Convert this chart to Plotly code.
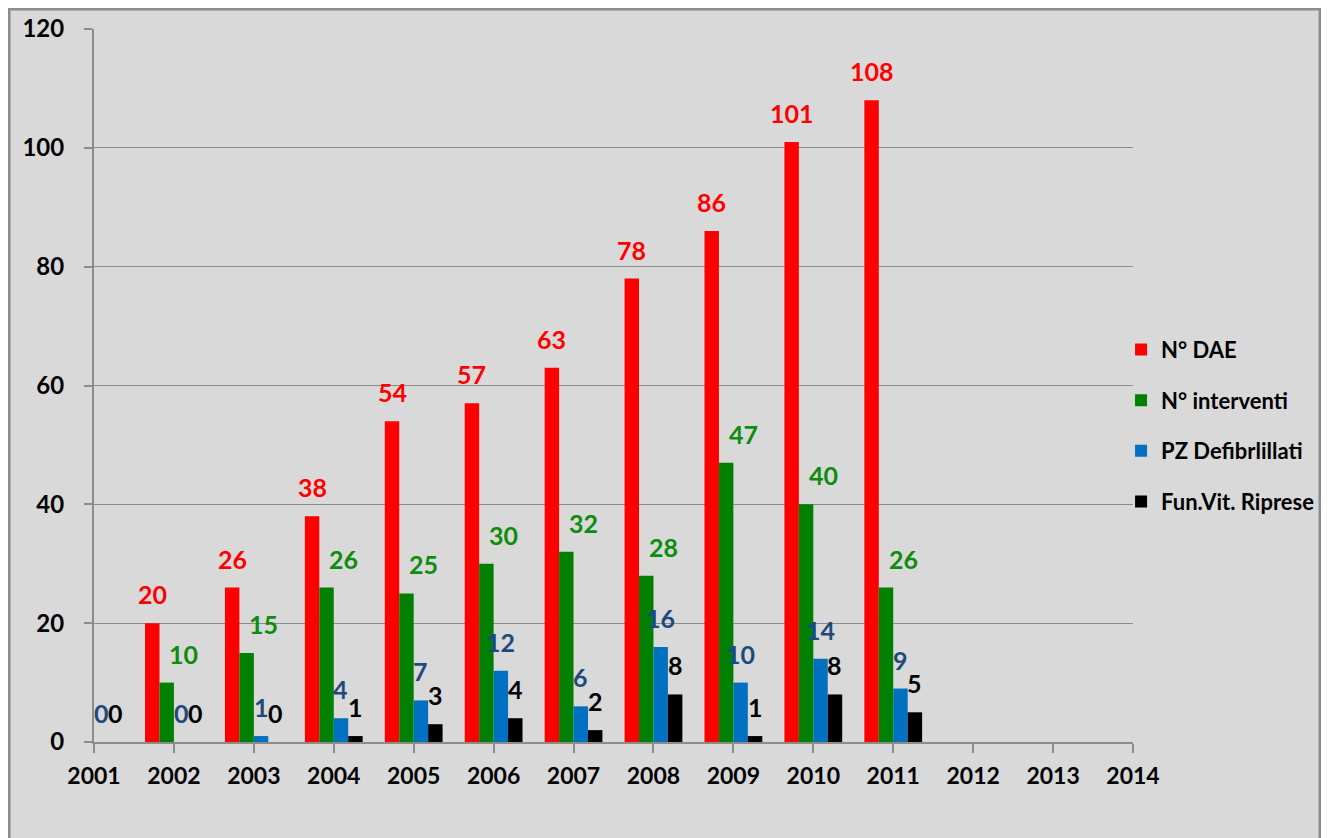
import plotly.graph_objects as go

years = [2001, 2002, 2003, 2004, 2005, 2006, 2007, 2008, 2009, 2010, 2011]
tick_years = list(range(2001, 2015))
n_dae = [None, 20, 26, 38, 54, 57, 63, 78, 86, 101, 108]
n_interventi = [None, 10, 15, 26, 25, 30, 32, 28, 47, 40, 26]
pz_defibrillati = [0, 0, 1, 4, 7, 12, 6, 16, 10, 14, 9]
fun_vit_riprese = [0, 0, 0, 1, 3, 4, 2, 8, 1, 8, 5]

series = [
    ("N° DAE", n_dae, "#FF0000", "#FF0000"),
    ("N° interventi", n_interventi, "#008000", "#0E8C0E"),
    ("PZ Defibrlillati", pz_defibrillati, "#0070C0", "#1F497D"),
    ("Fun.Vit. Riprese", fun_vit_riprese, "#000000", "#000000"),
]

FONT = "Lato"
bargap = 0.277
bw = (1 - bargap) / len(series)
label_xshift = [0, 17, 0, 0]

fig = go.Figure()
annotations = []
for i, (name, vals, col, tcol) in enumerate(series):
    fig.add_trace(go.Bar(
        x=years, y=vals, name=name, marker=dict(color=col, line=dict(width=0)),
        legendgroup=name,
    ))
    off = -(1 - bargap) / 2 + bw * (i + 0.5)
    for yr, v in zip(years, vals):
        if v is None:
            continue
        annotations.append(dict(
            x=yr + off, y=v, xref="x", yref="y", text=str(v), showarrow=False,
            yanchor="middle", xanchor="center", yshift=29, xshift=label_xshift[i],
            font=dict(family=FONT, size=25, color=tcol, weight="bold"),
        ))

fig.update_layout(
    width=1329, height=838,
    margin=dict(l=86, r=204, t=21, b=104, autoexpand=False),
    paper_bgcolor="white",
    plot_bgcolor="rgba(0,0,0,0)",
    barmode="group", bargap=bargap, bargroupgap=0,
    font=dict(family=FONT, color="black", weight="bold"),
    showlegend=True,
    legend=dict(x=0.9885, xanchor="left", y=0.4435, yanchor="middle",
                font=dict(family=FONT, size=22, color="black", weight="bold"),
                tracegroupgap=19, bgcolor="rgba(0,0,0,0)", itemwidth=30),
    annotations=annotations,
    shapes=[dict(type="rect", xref="paper", yref="paper",
                 x0=-0.0818, x1=1.18, y0=-0.2, y1=1.028,
                 line=dict(color="#8C8C8C", width=3), fillcolor="#D9D9D9",
                 layer="below")],
)
fig.update_xaxes(
    range=[2001, 2014], tickmode="array", tickvals=tick_years,
    ticktext=[str(y) for y in tick_years], automargin=False,
    showline=True, linecolor="#8C8C8C", linewidth=2,
    ticks="outside", ticklen=9, tickcolor="#8C8C8C", tickwidth=2,
    showgrid=False, zeroline=False, ticklabelstandoff=3,
    tickfont=dict(family=FONT, size=23, color="black", weight="bold"),
)
fig.update_yaxes(
    range=[0, 120], dtick=20, tick0=0, automargin=False,
    showline=True, linecolor="#8C8C8C", linewidth=2,
    ticks="outside", ticklen=8, tickcolor="#8C8C8C", tickwidth=2,
    showgrid=True, gridcolor="#8C8C8C", gridwidth=1, zeroline=False,
    ticklabelstandoff=15,
    tickfont=dict(family=FONT, size=24, color="black", weight="bold"),
)

fig.write_html("out.html")
